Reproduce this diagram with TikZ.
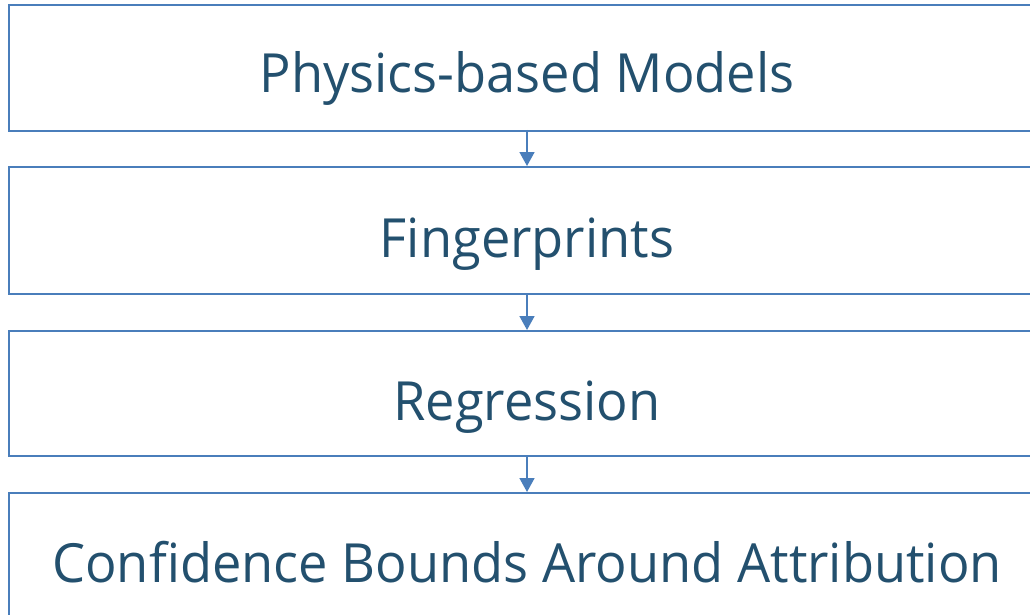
\documentclass[tikz,border=0pt]{standalone}
\usepackage{fontspec}
\setmainfont{Open Sans}[FakeStretch=0.97]
\usetikzlibrary{arrows.meta}
\definecolor{boxline}{RGB}{74,126,187}
\definecolor{boxtext}{RGB}{35,80,110}
\tikzset{
  stagebox/.style={draw=boxline, line width=1.8pt},
  stagelabel/.style={anchor=base, text=boxtext, font=\fontsize{54}{60}\selectfont, inner sep=0pt},
  flowarrow/.style={draw=boxline, line width=1.6pt, -{Triangle[width=15pt,length=14pt]}}
}
\begin{document}
\begin{tikzpicture}[x=1pt,y=-1pt]
\useasboundingbox (0,0) rectangle (1030,615);
\begin{scope}
\clip (0,0) rectangle (1030,615);
\node[stagebox, minimum width=1038pt, minimum height=126pt, anchor=north west, inner sep=0pt] (b1) at (8,4) {};
\node[stagebox, minimum width=1038pt, minimum height=127pt, anchor=north west, inner sep=0pt] (b2) at (8,166) {};
\node[stagebox, minimum width=1038pt, minimum height=125pt, anchor=north west, inner sep=0pt] (b3) at (8,330) {};
\node[stagebox, minimum width=1038pt, minimum height=126pt, anchor=north west, inner sep=0pt] (b4) at (8,492) {};
\end{scope}
\node[stagelabel] (t1) at (527,93) {Physics-based Models};
\node[stagelabel] (t2) at (527,257) {Fingerprints};
\node[stagelabel] (t3) at (527,420) {Regression};
\node[stagelabel] (t4) at (527,582) {Confidence Bounds Around Attribution};
\coordinate (a1) at (527,130);
\coordinate (a2) at (527,293);
\coordinate (a3) at (527,455);
\draw[flowarrow] (a1) -- (a1 |- b2.north);
\draw[flowarrow] (a2) -- (a2 |- b3.north);
\draw[flowarrow] (a3) -- (a3 |- b4.north);
\end{tikzpicture}
\end{document}
